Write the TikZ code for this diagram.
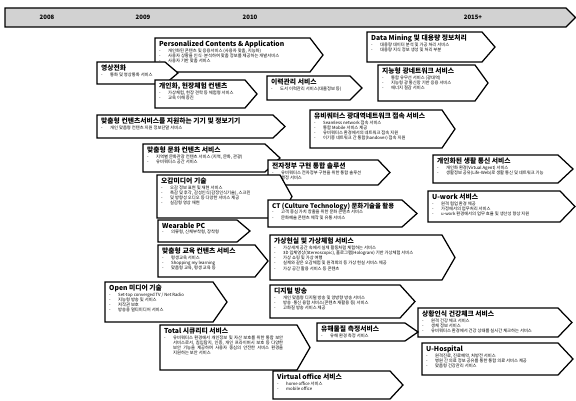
\documentclass[tikz,border=0pt]{standalone}
\usepackage{fontspec}
\setmainfont{Noto Sans CJK KR}
\newcommand{\tf}{\fontsize{6.8}{7.6}\selectfont\bfseries}
\newcommand{\itm}[1]{\makebox[9pt][l]{-}#1}
\tikzset{
  pb/.style={draw=black, line width=1.25pt, fill=white, line join=miter},
  pt/.style={anchor=north west, align=left, inner xsep=4pt, inner ysep=2.5pt,
             font=\fontsize{4.3}{5.2}\selectfont},
  bar/.style={draw=black, line width=1.1pt, fill=gray!35},
  yr/.style={font=\fontsize{6}{7}\selectfont\bfseries, inner sep=1pt}
}
\newcommand{\pbox}[8]{%
  \draw[pb] (#2,#3) -- (#4,#3) -- (#5,{(#3+#6)/2}) -- (#4,#6) -- (#2,#6) -- cycle;
  \node[pt] (#1) at (#2,#3) {{\tf #7}\\[0.6pt]#8};
}
\begin{document}
\begin{tikzpicture}[x=1pt,y=-1pt]
\useasboundingbox (0,0) rectangle (576,401);
\fill[white] (0,0) rectangle (576,401);
% timeline
\draw[bar] (5,8) -- (566,8) -- (575.5,17.5) -- (566,27) -- (5,27) -- cycle;
\node[yr] (y2008) at (47,17.5) {2008};
\node[yr] (y2009) at (143,17.5) {2009};
\node[yr] (y2010) at (250,17.5) {2010};
\node[yr] (y2015) at (473,17.5) {2015+};
% boxes
\pbox{dmin}{367}{32}{482}{495}{62}{Data Mining 및 대용량 정보처리}{\itm{대용량 데이터 분석 및 가공 처리 서비스}\\\itm{대용량 지식 정보 생성 및 처리 부분}}
\pbox{persn}{155}{38}{310}{323}{72}{Personalized Contents \& Application}{\itm{개인화된 콘텐츠 및 응용서비스 (사용자 맞춤, 지능화)}\\\itm{사용자 상황을 인식·분석하여 맞춤 정보를 제공하는 개발서비스}\\\itm{사용자 기반 맞춤 서비스}}
\pbox{video}{97}{62}{165}{178}{84}{영상전화}{\itm{통화 및 영상통화 서비스}}
\pbox{optnet}{378}{65}{475}{488}{101}{지능형 광네트워크 서비스}{\itm{통합 유무선 서비스 (광대역)}\\\itm{지능형 광 통신망 기반 응용 서비스}\\\itm{에너지 절감 서비스}}
\pbox{hist}{267}{76}{350}{362}{100}{이력관리 서비스}{\itm{도서 이력관리 서비스(대출정보 등)}}
\pbox{field}{155}{80}{245}{257}{108}{개인화, 현장체험 컨텐츠}{\itm{가상체험, 현장 견학 등 체험형 서비스}\\\itm{교육 이해 증진}}
\pbox{ubi}{310}{110}{442}{455}{148}{유비쿼터스 광대역네트워크 접속 서비스}{\itm{Seamless network 접속 서비스}\\\itm{통합 Mobile 서비스 제공}\\\itm{유비쿼터스 환경에서의 네트워크 접속 지원}\\\itm{이기종 네트워크 간 통합(handover) 접속 지원}}
\pbox{base}{97}{115}{273}{285}{138}{맞춤형 컨텐츠서비스를 지원하는 기기 및 정보기기}{\itm{개인 맞춤형 컨텐츠 지원 정보단말 서비스}}
\pbox{cult}{143}{144}{265}{280}{172}{맞춤형 문화 컨텐츠 서비스}{\itm{지역별 문화관광 컨텐츠 서비스 (지역, 문화, 관광)}\\\itm{유비쿼터스 공간 서비스}}
\pbox{life}{433}{155}{558}{573}{183}{개인화된 생활 통신 서비스}{\itm{개인화 환경(Virtual Agent) 서비스}\\\itm{생활정보 공유(Life-Web)로 생활 통신 및 네트워크 기능}}
\pbox{egov}{268}{160}{378}{390}{185}{전자정부 구현 통합 솔루션}{\itm{유비쿼터스 전자정부 구현을 위한 통합 솔루션}\\\itm{행정 서비스}}
\pbox{sense}{157}{175}{280}{292}{218}{오감미디어 기술}{\itm{오감 정보 표현 및 재현 서비스}\\\itm{촉감 및 후각, 감성인식(감정인식기술), 스크린}\\\itm{및 방향성 오디오 등 다양한 서비스 제공}\\\itm{실감형 영상 재현}}
\pbox{uwork}{428}{191}{560}{575}{222}{U-work 서비스}{\itm{원격 협업 환경 제공}\\\itm{가정에서의 업무처리 서비스}\\\itm{u-work 환경에서의 업무 효율 및 생산성 향상 지원}}
\pbox{ct}{268}{200}{402}{417}{227}{\fontsize{6.4}{7.4}\selectfont CT (Culture Technology) 문화기술을 활용}{\itm{고객 중심 가치 창출을 위한 문화 콘텐츠 서비스}\\\itm{문화예술 콘텐츠 제작 및 유통 서비스}}
\pbox{wear}{158}{220}{237}{250}{242}{Wearable PC}{\itm{의류형, 신체부착형, 장착형}}
\pbox{vr}{270}{235}{442}{455}{280}{가상현실 및 가상체험 서비스}{\itm{가상세계 공간 속에서 실제 활동처럼 체험하는 서비스}\\\itm{3D 입체영상(Stereoscopic), 홀로그램(Hologram) 기반 가상체험 서비스}\\\itm{가상 쇼핑 및 가상 여행}\\\itm{실제와 같은 오감체험 및 원격회의 등 가상 현실 서비스 제공}\\\itm{가상 공간 활용 서비스 등 콘텐츠}}
\pbox{edu}{158}{245}{255}{268}{277}{맞춤형 교육 컨텐츠 서비스}{\itm{평생교육 서비스}\\\itm{Shopping my learning}\\\itm{맞춤형 교육, 평생 교육 등}}
\pbox{open}{105}{282}{213}{227}{322}{Open 미디어 기술}{\itm{Set-top converged TV / Net Radio}\\\itm{지능형 방송 및 서비스}\\\itm{저작권 보호}\\\itm{방송용 멀티미디어 서비스}}
\pbox{dtv}{270}{285}{400}{415}{318}{디지털 방송}{\itm{개인 맞춤형 디지털 방송 및 양방향 방송 서비스}\\\itm{방송·통신 융합 서비스(콘텐츠 재활용 등) 서비스}\\\itm{고화질 방송 서비스 제공}}
\pbox{health}{418}{308}{558}{572}{337}{상황인식 건강체크 서비스}{\itm{원격 건강 체크 서비스}\\\itm{생체 정보 서비스}\\\itm{유비쿼터스 환경에서 건강 상태를 실시간 체크하는 서비스}}
\pbox{haz}{317}{323}{405}{418}{341}{유해물질 측정서비스}{\itm{유해 환경 측정 서비스}}
\pbox{sec}{160}{325}{297}{310}{370}{Total 시큐리티 서비스}{\makebox[9pt][l]{-}\parbox[t]{110pt}{\fontsize{4.3}{5.2}\selectfont 유비쿼터스 환경에서 개인정보 및 자산 보호를 위한 통합 보안 서비스로서, 침입탐지, 인증, 개인 프라이버시 보호 등 다양한 보안 기능을 제공하며 사용자 중심의 안전한 서비스 환경을 지원하는 보안 서비스}}
\pbox{hosp}{422}{343}{558}{573}{375}{U-Hospital}{\itm{원격진료, 진료예약, 처방전 서비스}\\\itm{병원 간 의료 정보 공유를 통한 통합 의료 서비스 제공}\\\itm{맞춤형 건강관리 서비스}}
\pbox{vo}{273}{371}{390}{403}{399}{Virtual office 서비스}{\itm{home office 서비스}\\\itm{mobile office}}
\end{tikzpicture}
\end{document}
